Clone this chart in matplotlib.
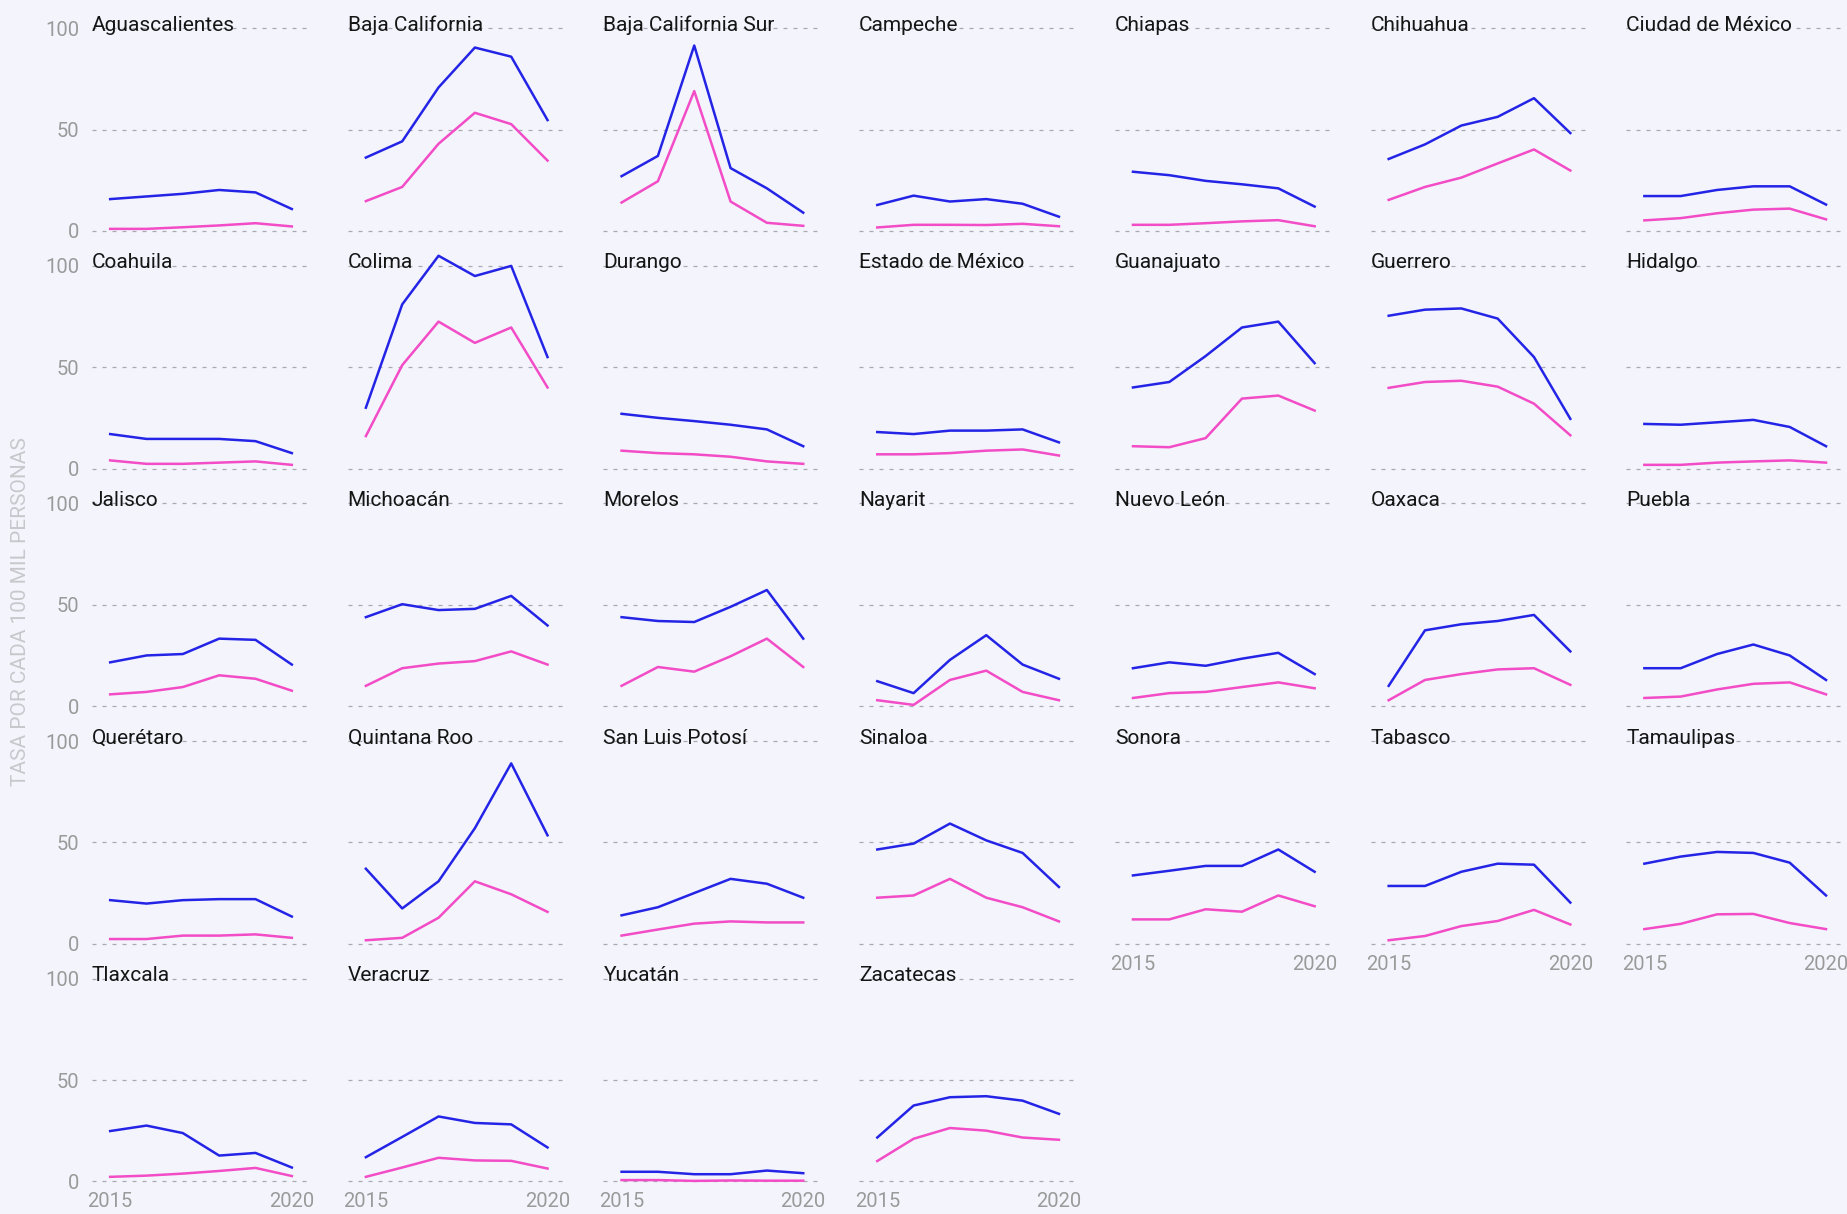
import matplotlib
matplotlib.use("Agg")
import matplotlib.pyplot as plt
import matplotlib.transforms as mtransforms

years = [2015, 2016, 2017, 2018, 2019, 2020]
states = ["Aguascalientes", "Baja California", "Baja California Sur", "Campeche", "Chiapas",
          "Chihuahua", "Ciudad de México", "Coahuila", "Colima", "Durango", "Estado de México",
          "Guanajuato", "Guerrero", "Hidalgo", "Jalisco", "Michoacán", "Morelos", "Nayarit",
          "Nuevo León", "Oaxaca", "Puebla", "Querétaro", "Quintana Roo", "San Luis Potosí",
          "Sinaloa", "Sonora", "Tabasco", "Tamaulipas", "Tlaxcala", "Veracruz", "Yucatán",
          "Zacatecas"]
serie_azul = [
    [15.7, 17, 18.3, 20.2, 19, 10.8],
    [36.2, 44.2, 70.8, 90.5, 86, 54.7],
    [27, 37, 91.5, 31, 21, 9],
    [12.8, 17.4, 14.5, 15.7, 13.4, 7],
    [29.2, 27.5, 24.7, 23, 21, 12],
    [35.5, 42.7, 52, 56.3, 65.5, 48.3],
    [17.2, 17.2, 20.2, 22, 22, 13],
    [17, 14.6, 14.6, 14.6, 13.5, 7.6],
    [30, 81, 105, 95, 100, 55],
    [27, 25, 23.4, 21.6, 19.3, 11],
    [18, 17, 18.7, 18.7, 19.3, 12.9],
    [40, 42.7, 55.5, 69.6, 72.5, 52],
    [75.4, 78.4, 79, 74, 55, 24.5],
    [22, 21.6, 22.8, 24, 20.5, 11],
    [21.6, 25, 25.7, 33.3, 32.7, 20.5],
    [43.9, 50.3, 47.4, 48, 54.4, 39.8],
    [43.9, 42, 41.5, 49, 57.3, 33.3],
    [12.3, 6.4, 22.8, 35, 20.5, 13.5],
    [18.7, 21.6, 19.9, 23.4, 26.3, 15.8],
    [10, 37.4, 40.4, 42, 45, 27],
    [18.7, 18.7, 25.7, 30.4, 25, 12.9],
    [21.5, 19.8, 21.5, 22, 22, 13.4],
    [37, 17.4, 30.8, 57, 89, 53.5],
    [14, 18, 25, 32, 29.6, 22.7],
    [46.5, 49.4, 59.3, 51, 44.8, 28],
    [33.7, 36, 38.4, 38.4, 46.5, 35.5],
    [28.5, 28.5, 35.5, 39.5, 39, 20.3],
    [39.5, 43, 45.3, 44.8, 40, 23.8],
    [24.8, 27.5, 23.8, 12.7, 14, 6.8],
    [11.9, 21.9, 32, 28.8, 28.1, 16.7],
    [4.7, 4.7, 3.5, 3.5, 5.3, 4],
    [21.6, 37.4, 41.5, 42, 39.8, 33.3],
]
serie_rosa = [
    [1, 1, 1.8, 2.7, 3.8, 2.2],
    [14.7, 21.7, 43, 58.3, 52.7, 34.7],
    [14, 24.5, 69, 14.5, 4, 2.5],
    [1.7, 3, 3, 2.9, 3.5, 2.3],
    [3, 3, 3.8, 4.7, 5.3, 2.3],
    [15.3, 21.7, 26.3, 33.3, 40.2, 29.8],
    [5.2, 6.3, 8.7, 10.5, 11, 5.7],
    [4, 2.3, 2.3, 2.9, 3.5, 1.8],
    [16, 51, 72.5, 62, 69.6, 40],
    [8.8, 7.6, 7, 5.8, 3.5, 2.3],
    [7, 7, 7.6, 8.8, 9.4, 6.4],
    [11, 10.5, 15, 34.5, 36, 28.6],
    [39.8, 42.7, 43.3, 40.4, 32, 16.4],
    [1.8, 1.8, 2.9, 3.5, 4, 2.9],
    [5.8, 7, 9.4, 15.2, 13.5, 7.6],
    [10, 18.7, 21, 22.2, 27, 20.5],
    [10, 19.3, 17, 24.6, 33.3, 19.3],
    [2.9, 0.6, 12.9, 17.5, 7, 2.9],
    [4, 6.4, 7, 9.4, 11.7, 8.8],
    [2.9, 12.9, 15.8, 18.1, 18.7, 10.5],
    [4, 4.7, 8.2, 11, 11.7, 5.8],
    [2.3, 2.3, 4, 4, 4.6, 2.9],
    [1.7, 2.9, 12.8, 30.8, 24.4, 15.7],
    [4, 7, 9.9, 11, 10.5, 10.5],
    [22.7, 23.8, 32, 22.7, 18, 11],
    [12, 12, 17, 15.8, 23.8, 18.5],
    [1.7, 3.8, 8.7, 11.2, 16.7, 9.5],
    [7.2, 9.8, 14.5, 14.7, 10.2, 7.2],
    [2.2, 2.8, 3.8, 5.1, 6.6, 2.6],
    [2.2, 6.8, 11.6, 10.3, 10.1, 6.3],
    [0.6, 0.6, 0.2, 0.4, 0.3, 0.3],
    [10, 21, 26.3, 25, 21.6, 20.5],
]
y_ticks = [0, 50, 100]
x_ticks = [2015, 2020]
y_label = "TASA POR CADA 100 MIL PERSONAS"

BG = "#f4f4fd"
BLUE = "#2424e6"
PINK = "#f24cc6"
GRID = "#a9a9b0"
TICK = "#9a9a9a"

plt.rcParams['font.family'] = ['Roboto', 'DejaVu Sans']

W, H = 1847, 1214
fig = plt.figure(figsize=(W / 100, H / 100), dpi=100, facecolor=BG)

ncol = 7
col_left0, col_pitch, ax_w = 92, 255.7, 218
row_top0, row_pitch, ax_h = 28.3, 237.6, 202.6
nrows = 5

for i, st in enumerate(states):
    r, c = divmod(i, ncol)
    left = col_left0 + c * col_pitch
    top = row_top0 + r * row_pitch
    ax = fig.add_axes([left / W, 1 - (top + ax_h) / H, ax_w / W, ax_h / H])
    ax.set_facecolor("none")
    ax.set_xlim(2014.5, 2020.5)
    ax.set_ylim(0, 100)
    for s in ax.spines.values():
        s.set_visible(False)
    ax.set_yticks(y_ticks)
    ax.set_xticks(x_ticks)
    ax.tick_params(length=0, labelsize=14.5, colors=TICK, pad=9)
    ax.tick_params(axis='x', pad=8)
    ax.grid(axis='y', color=GRID, linestyle=(0, (3.2, 4.8)), linewidth=0.9)
    ax.grid(axis='x', visible=False)
    for gl in ax.get_ygridlines():
        gl.set_clip_on(False)
    if c != 0:
        ax.set_yticklabels([])
    last_in_col = (r == nrows - 1) or (i + ncol >= len(states))
    if not last_in_col:
        ax.set_xticklabels([])
    ax.plot(years, serie_azul[i], color=BLUE, lw=1.8, clip_on=False, zorder=3)
    ax.plot(years, serie_rosa[i], color=PINK, lw=1.8, clip_on=False, zorder=3)
    off = mtransforms.ScaledTranslation(0, -2.5 / 100, fig.dpi_scale_trans)
    ax.text(0, 1, st, transform=ax.transAxes + off, ha='left', va='baseline',
            fontsize=15, color='#151515', zorder=4)

fig.text(21 / W, 1 - 612 / H, y_label, rotation=90, ha='center', va='center',
         fontsize=15, color='#c8c8cc')

fig.savefig("out.png", dpi=100, facecolor=BG)
